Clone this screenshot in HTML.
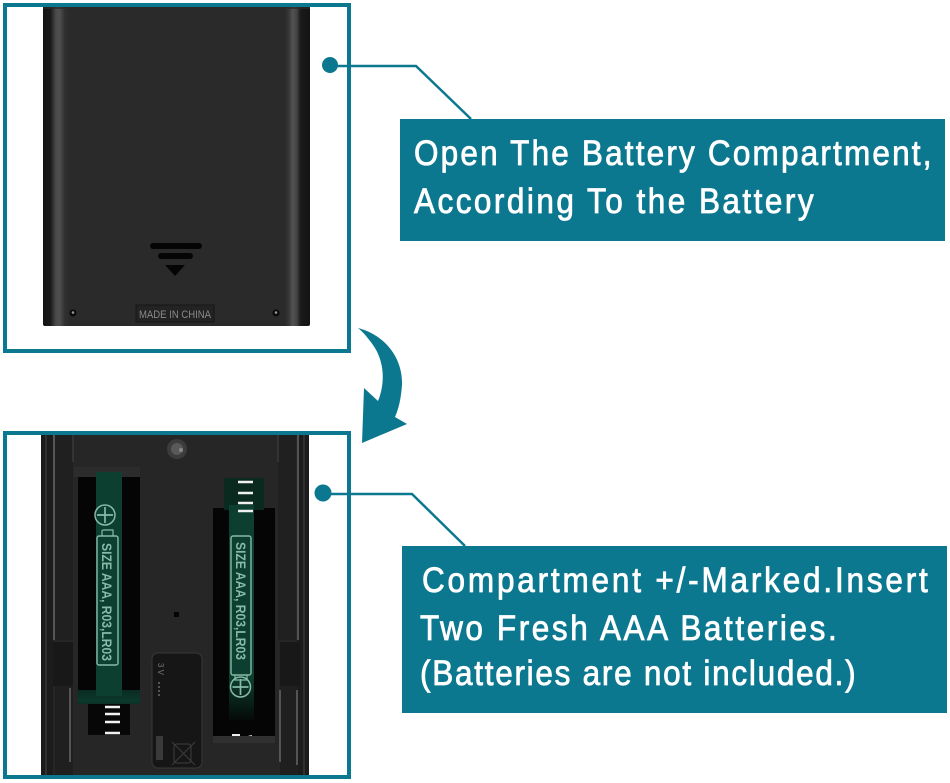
<!DOCTYPE html>
<html lang="en">
<head>
<meta charset="utf-8">
<title>Battery installation</title>
<style>
html,body{margin:0;padding:0;background:#fff}
svg{display:block}
text{font-family:"Liberation Sans",sans-serif}
.c{fill:#fff;font-size:35px;stroke:#fff;stroke-width:.8px}
.g{fill:#86bba9;font-size:14px;font-weight:bold}
</style>
</head>
<body>
<svg width="950" height="783" viewBox="0 0 950 783" xmlns="http://www.w3.org/2000/svg">
<defs>
<linearGradient id="top" x1="0" x2="1" y1="0" y2="0">
<stop offset="0" stop-color="#141414"/>
<stop offset=".028" stop-color="#1a1a1a"/>
<stop offset=".048" stop-color="#4a4a4a"/>
<stop offset=".062" stop-color="#505050"/>
<stop offset=".082" stop-color="#303030"/>
<stop offset=".1" stop-color="#2a2a2a"/>
<stop offset=".905" stop-color="#2a2a2a"/>
<stop offset=".92" stop-color="#363636"/>
<stop offset=".935" stop-color="#525252"/>
<stop offset=".95" stop-color="#444"/>
<stop offset=".965" stop-color="#1a1a1a"/>
<stop offset="1" stop-color="#141414"/>
</linearGradient>
<linearGradient id="gl" x1="0" x2="0" y1="0" y2="1">
<stop offset="0" stop-color="#0c3f2f"/>
<stop offset=".8" stop-color="#0c3f2f"/>
<stop offset="1" stop-color="#050a08"/>
</linearGradient>
<linearGradient id="fade" x1="0" x2="0" y1="0" y2="1">
<stop offset="0" stop-color="#0a2a20"/>
<stop offset=".5" stop-color="#0b3a2b"/>
<stop offset="1" stop-color="#0a1411"/>
</linearGradient>
</defs>

<!-- top remote -->
<path d="M43 6H310V324Q310 326 308 326H45Q43 326 43 324Z" fill="url(#top)"/>
<rect x="43" y="6" width="267" height="3" fill="#2f2a28" opacity=".7"/>
<rect x="150" y="243" width="52" height="6" rx="3" fill="#050505"/>
<rect x="158" y="253" width="35" height="6" rx="3" fill="#050505"/>
<path d="M165 265H185L175 276Z" fill="#050505"/>
<circle cx="73" cy="313" r="3.5" fill="#0a0a0a"/><circle cx="73" cy="312.5" r="1.3" fill="#999"/>
<circle cx="276" cy="313" r="3.5" fill="#0a0a0a"/><circle cx="276" cy="312.5" r="1.3" fill="#999"/>
<rect x="136" y="305" width="78" height="17" fill="#232323" stroke="#151515"/>
<text x="175" y="318" text-anchor="middle" font-size="11" fill="#8a8a8a" textLength="72" lengthAdjust="spacingAndGlyphs">MADE IN CHINA</text>

<!-- bottom remote -->
<rect x="41" y="434" width="268" height="342" fill="#262626"/>
<rect x="41" y="434" width="12" height="342" fill="#1c1c1c"/>
<rect x="297" y="434" width="12" height="342" fill="#1c1c1c"/>
<rect x="55" y="434" width="18" height="206" fill="#202020"/>
<rect x="278" y="434" width="18" height="206" fill="#202020"/>
<rect x="53" y="642" width="20" height="44" fill="#181818"/>
<rect x="280" y="642" width="20" height="44" fill="#181818"/>
<rect x="55" y="686" width="18" height="90" fill="#1f1f1f"/>
<rect x="280" y="686" width="18" height="90" fill="#1f1f1f"/>
<path d="M73 434V462M278 434V462M46 434V776M304 434V776" stroke="#444" stroke-width="1" fill="none"/>
<path d="M54 434V640M298 434V640M70 688V762M280 690V762M297 690V765" stroke="#777" stroke-width="1.2" fill="none"/>
<circle cx="177" cy="449" r="10" fill="#3c3c3c"/><circle cx="177" cy="449" r="6" fill="#595959"/><circle cx="181" cy="450" r="2" fill="#888"/>
<rect x="74" y="467" width="66" height="10" fill="#2c2c2c"/>

<!-- left bay -->
<rect x="78" y="477" width="62" height="213" fill="#050505"/>
<path d="M78 690H140V704H130V712H88V704H78Z" fill="url(#fade)"/>
<rect x="96" y="472" width="26" height="224" fill="#0c3f2f"/>
<rect x="88" y="704" width="42" height="31" fill="#070707"/>
<path d="M105 707H120M105 714H120M105 722H120M105 733H120" stroke="#f0f0f0" stroke-width="2.4" fill="none"/>
<circle cx="105" cy="515" r="10" fill="none" stroke="#86bba9" stroke-width="1.5"/>
<path d="M105 507V523M97 515H113" stroke="#86bba9" stroke-width="1.7"/>
<path d="M102 536V531Q102 530 104 530H113V536" fill="none" stroke="#86bba9" stroke-width="1.2"/>
<rect x="97" y="536" width="21" height="129" rx="2" fill="none" stroke="#86bba9" stroke-width="1.4"/>
<text class="g" transform="translate(102,543) rotate(90)" textLength="118" lengthAdjust="spacingAndGlyphs">SIZE  AAA, R03,LR03</text>

<!-- right bay -->
<rect x="213" y="508" width="62" height="228" fill="#050505"/>
<rect x="224" y="478" width="40" height="32" fill="#0a2a20"/>
<rect x="229" y="505" width="25" height="215" fill="url(#gl)"/>
<path d="M238 482H253M238 493H253M238 503H253M238 511H253" stroke="#f0f0f0" stroke-width="2.4" fill="none"/>
<rect x="231" y="536" width="20" height="139" rx="2" fill="none" stroke="#86bba9" stroke-width="1.4"/>
<path d="M235 675V680H247V675" fill="none" stroke="#86bba9" stroke-width="1.2"/>
<circle cx="240.5" cy="687" r="10" fill="none" stroke="#86bba9" stroke-width="1.5"/>
<path d="M240.5 679V695M232.5 687H248.5" stroke="#86bba9" stroke-width="1.7"/>
<text class="g" transform="translate(236,542) rotate(90)" textLength="118" lengthAdjust="spacingAndGlyphs">SIZE  AAA, R03,LR03</text>
<path d="M232 735H240M244 738L252 736" stroke="#eee" stroke-width="2" fill="none"/>
<rect x="213" y="736" width="62" height="7" fill="#303030"/>

<!-- rear label -->
<rect x="152" y="653" width="50" height="115" rx="6" fill="#161616" stroke="#383838" stroke-width="1"/>
<text transform="translate(158,663) rotate(90)" font-size="8" fill="#777">3 V</text>
<path d="M159 682V697" stroke="#555" stroke-width="2" stroke-dasharray="2 2"/>
<rect x="156" y="736" width="7" height="24" fill="#3a3a3a"/>
<path d="M172 742L195 765M195 742L172 765" stroke="#3d3d3d" stroke-width="1"/>
<rect x="174" y="744" width="17" height="19" rx="3" fill="none" stroke="#3d3d3d"/>
<rect x="174" y="612" width="5" height="5" fill="#050505"/>

<!-- frames -->
<rect x="5" y="5" width="344" height="346" fill="none" stroke="#0c7890" stroke-width="4"/>
<rect x="5" y="433" width="344" height="344" fill="none" stroke="#0c7890" stroke-width="4"/>

<!-- curved arrow -->
<path d="M358 328C385 335 403 358 402 385C401 398 399 408 395 417L407 424L362 443L364 388L378 401C385 384 385 362 373 345C368 338 363 332 358 328Z" fill="#0c7890"/>

<!-- connectors -->
<circle cx="330" cy="65" r="8" fill="#0c7890"/>
<path d="M330 66H416L471 119" fill="none" stroke="#0c7890" stroke-width="2.5"/>
<circle cx="323" cy="493" r="8.5" fill="#0c7890"/>
<path d="M323 494H412L465 546" fill="none" stroke="#0c7890" stroke-width="2.5"/>

<!-- boxes -->
<rect x="400" y="119" width="545" height="122" fill="#0c7890"/>
<text class="c" transform="translate(414,165) scale(.9,1)" textLength="575" lengthAdjust="spacing">Open The Battery Compartment,</text>
<text class="c" transform="translate(414,213) scale(.9,1)" textLength="444" lengthAdjust="spacing">According To the Battery</text>
<rect x="402" y="546" width="545" height="167" fill="#0c7890"/>
<text class="c" transform="translate(422,592) scale(.9,1)" textLength="562" lengthAdjust="spacing">Compartment +/-Marked.Insert</text>
<text class="c" transform="translate(420,640) scale(.9,1)" textLength="463" lengthAdjust="spacing">Two Fresh AAA Batteries.</text>
<text class="c" transform="translate(420,685) scale(.9,1)" textLength="484" lengthAdjust="spacing">(Batteries are not included.)</text>
</svg>
</body>
</html>
